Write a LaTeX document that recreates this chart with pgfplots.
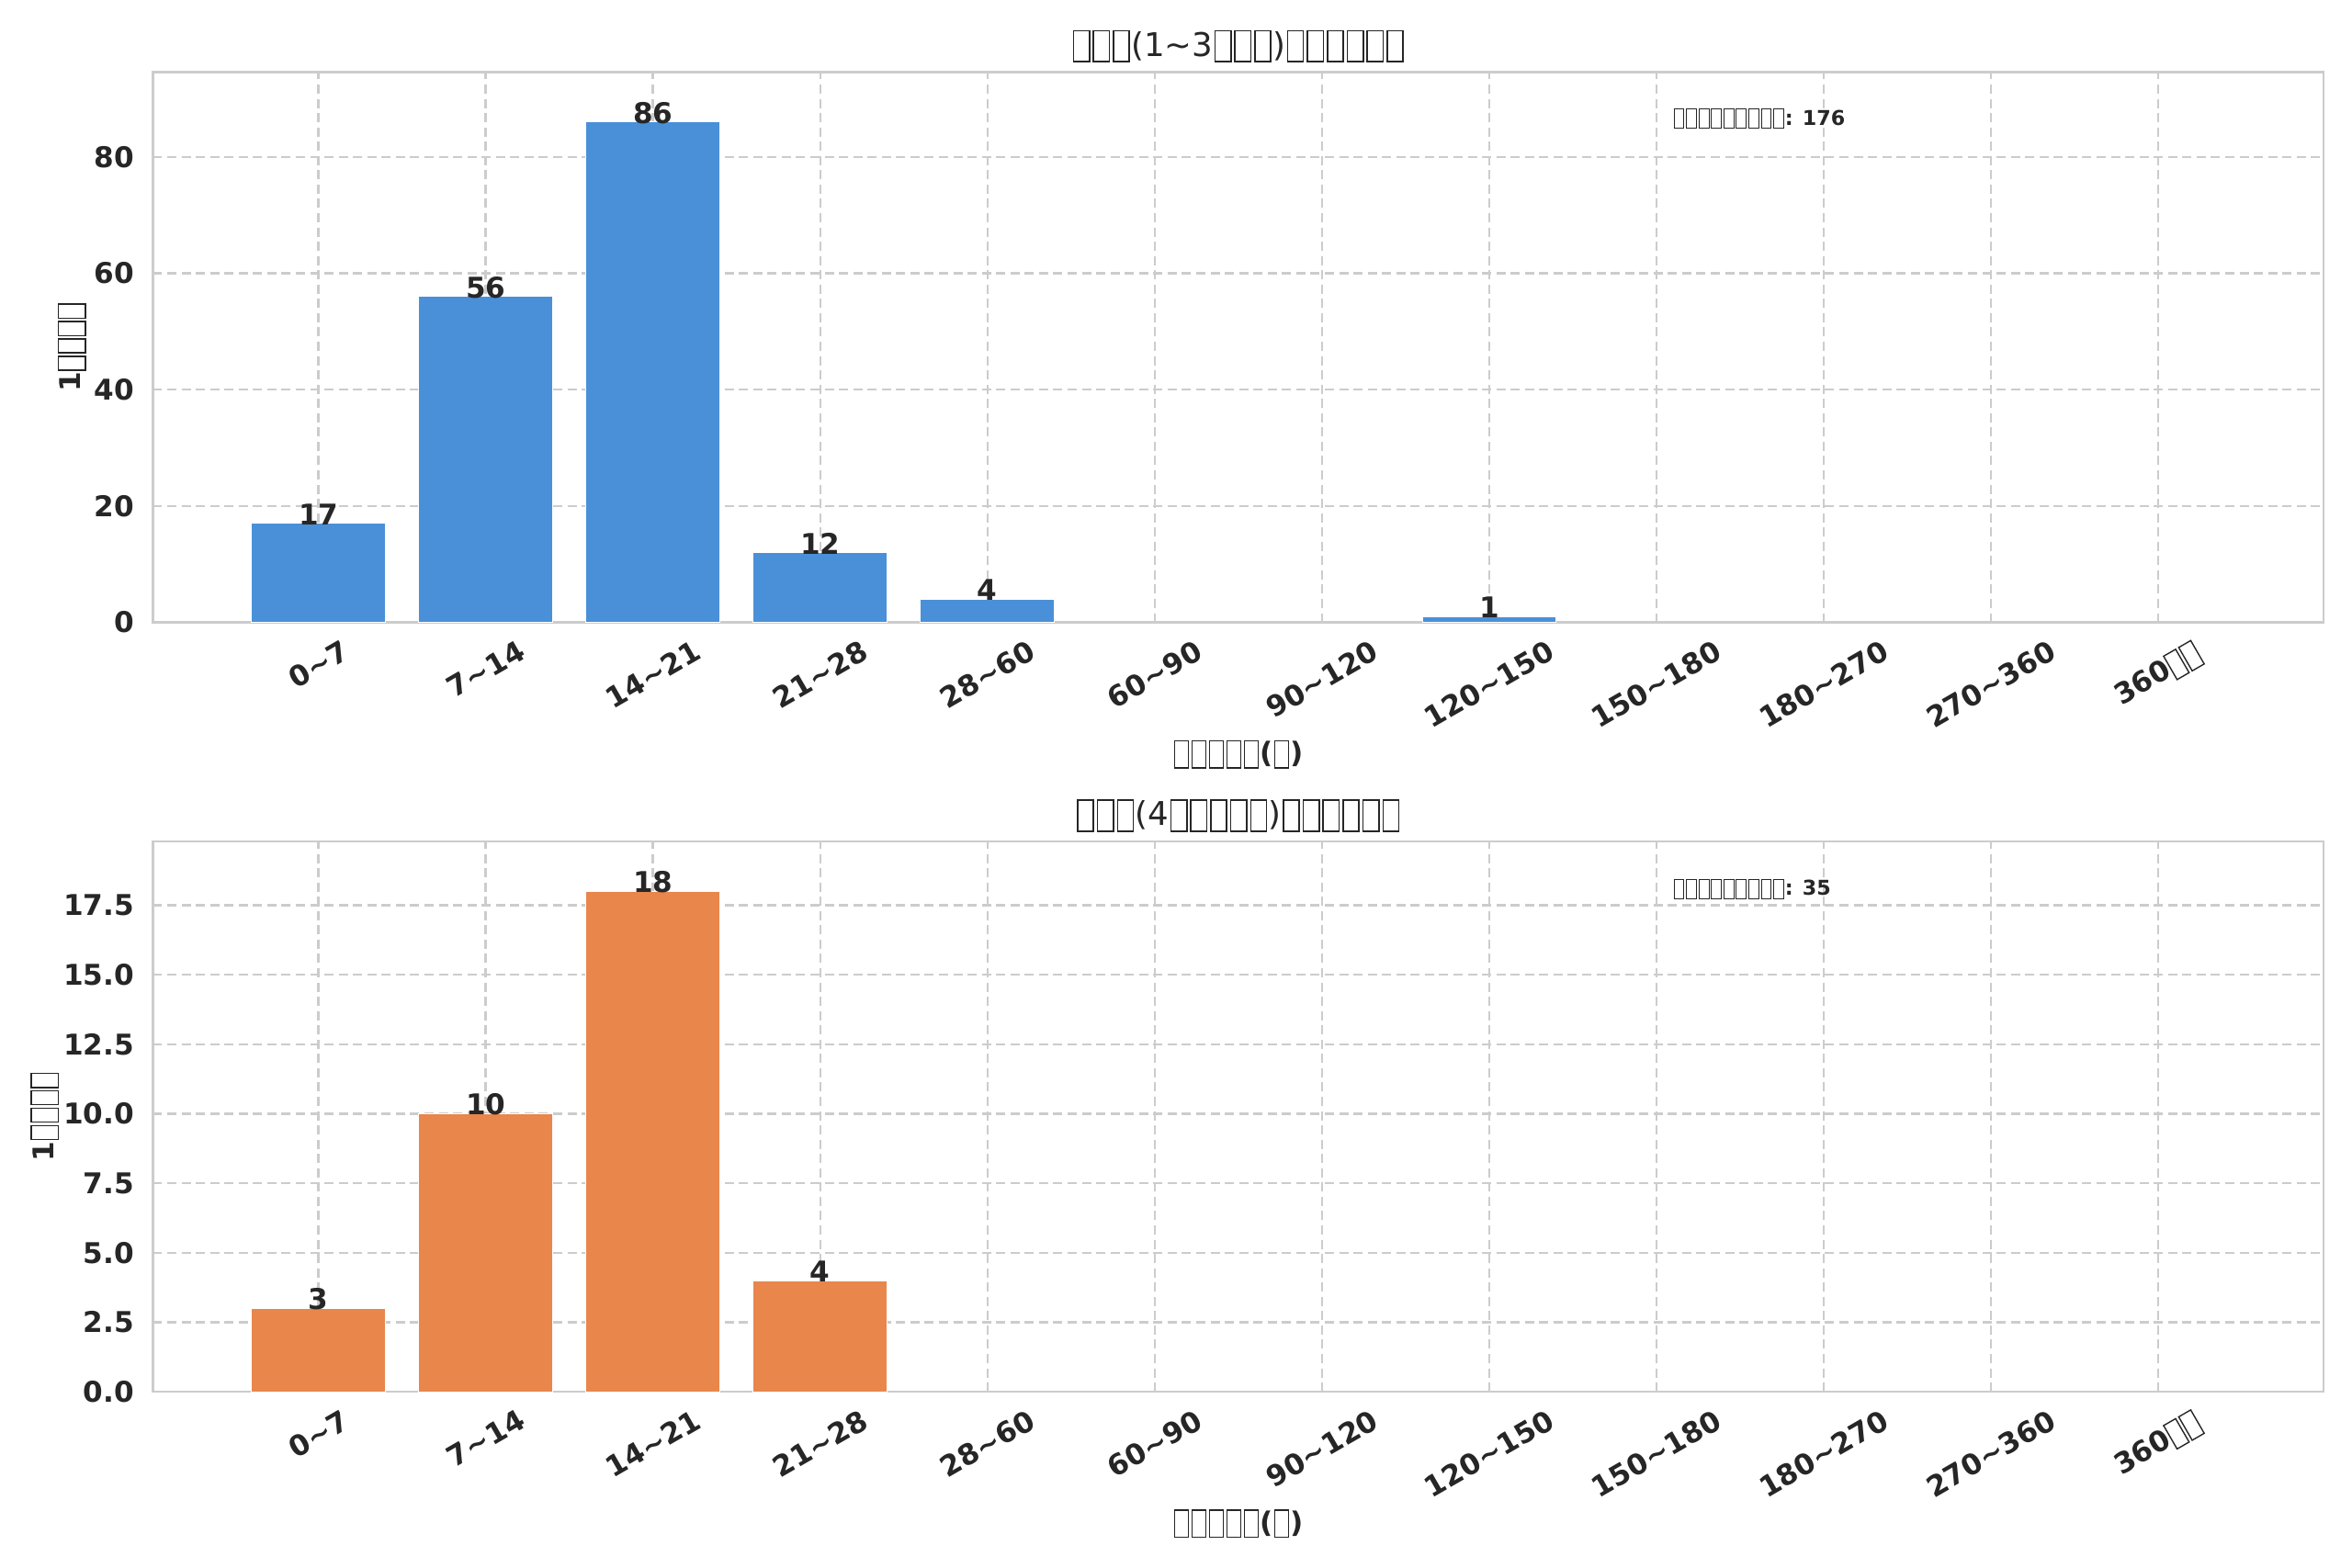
\documentclass[border=0pt]{standalone}
\usepackage{fontspec}
\setmainfont{DejaVu Sans}
\usepackage{pgfplots}
\pgfplotsset{compat=1.18}
\usepackage{graphicx}
\definecolor{barblue}{HTML}{4A90D9}
\definecolor{barorange}{HTML}{E8864C}
\definecolor{gridgray}{HTML}{CCCCCC}
\definecolor{txt}{HTML}{262626}
\newcommand\T{\kern0.04em{\setlength\fboxsep{0pt}\setlength\fboxrule{0.045em}\fbox{\rule[-0.15em]{0pt}{0.9em}\kern0.44em}}\kern0.04em}
\newcommand\til{\textasciitilde}
\newcommand\rl[1]{\rotatebox{30}{#1}}
\pgfplotsset{
 mystyle/.style={
  scale only axis, width=1063.2pt, height=269.6pt,
  anchor=south west,
  xmin=-0.99, xmax=11.99, ymin=0,
  /pgf/number format/assume math mode=true,
  xtick={0,...,11},
  xticklabels={\rl{0\til7},\rl{7\til14},\rl{14\til21},\rl{21\til28},\rl{28\til60},\rl{60\til90},\rl{90\til120},\rl{120\til150},\rl{150\til180},\rl{180\til270},\rl{270\til360},\rl{360\T\T}},
  ticklabel style={font=\fontsize{14}{16}\selectfont\bfseries, text=txt},
  xticklabel style={anchor=north, inner sep=0pt, yshift=-8pt},
  yticklabel style={anchor=east, inner sep=0pt, xshift=-9pt},
  major tick length=0pt,
  tick style={draw=none},
  axis line style={draw=gridgray, line width=1.2pt},
  grid=major,
  major grid style={draw=gridgray, line width=1.1pt, dash pattern=on 4.5pt off 2.5pt},
  title style={at={(0.5,1)}, anchor=south, inner sep=0pt, yshift=-1.5pt, font=\fontsize{16}{19}\selectfont, text=txt},
  xlabel style={at={(axis description cs:0.5,0)}, anchor=center, yshift=-64.7pt, font=\fontsize{14}{16}\selectfont\bfseries, text=txt},
  ylabel style={at={(axis description cs:0,0.5)}, anchor=center, font=\fontsize{14}{16}\selectfont\bfseries, text=txt},
  xlabel={\T\T\T\T\T(\T)},
  ylabel={1\T\T\T\T},
  every node near coord/.append style={font=\fontsize{14}{16}\selectfont\bfseries, text=txt, inner sep=0pt, anchor=south, yshift=-1pt},
 }
}
\begin{document}
\begin{tikzpicture}
\useasboundingbox (0,0) rectangle (1152pt,768pt);
\begin{axis}[mystyle, at={(74.9pt,463.1pt)},
  ymax=94.6, ytick={0,20,40,60,80},
  ylabel style={yshift=39.6pt},
  title={\T\T\T(1\til3\T\T\T)\T\T\T\T\T\T}]
\addplot[ybar, bar width=0.8, fill=barblue, draw=white, line width=0.4pt, nodes near coords]
  coordinates {(0,17) (1,56) (2,86) (3,12) (4,4) (7,1)};
\node[anchor=west, inner sep=0pt, font=\fontsize{10}{12}\selectfont\bfseries, text=txt] at (rel axis cs:0.7,0.915) {\T\T\T\T\T\T\T\T\T: 176};
\end{axis}
\begin{axis}[mystyle, at={(74.9pt,86.2pt)},
  ymax=19.8, ytick={0,2.5,5,7.5,10,12.5,15,17.5},
  yticklabel style={/pgf/number format/.cd, fixed, fixed zerofill, precision=1},
  ylabel style={yshift=52.9pt},
  title={\T\T\T(4\T\T\T\T\T)\T\T\T\T\T\T}]
\addplot[ybar, bar width=0.8, fill=barorange, draw=white, line width=0.4pt, nodes near coords]
  coordinates {(0,3) (1,10) (2,18) (3,4)};
\node[anchor=west, inner sep=0pt, font=\fontsize{10}{12}\selectfont\bfseries, text=txt] at (rel axis cs:0.7,0.913) {\T\T\T\T\T\T\T\T\T: 35};
\end{axis}
\end{tikzpicture}
\end{document}
